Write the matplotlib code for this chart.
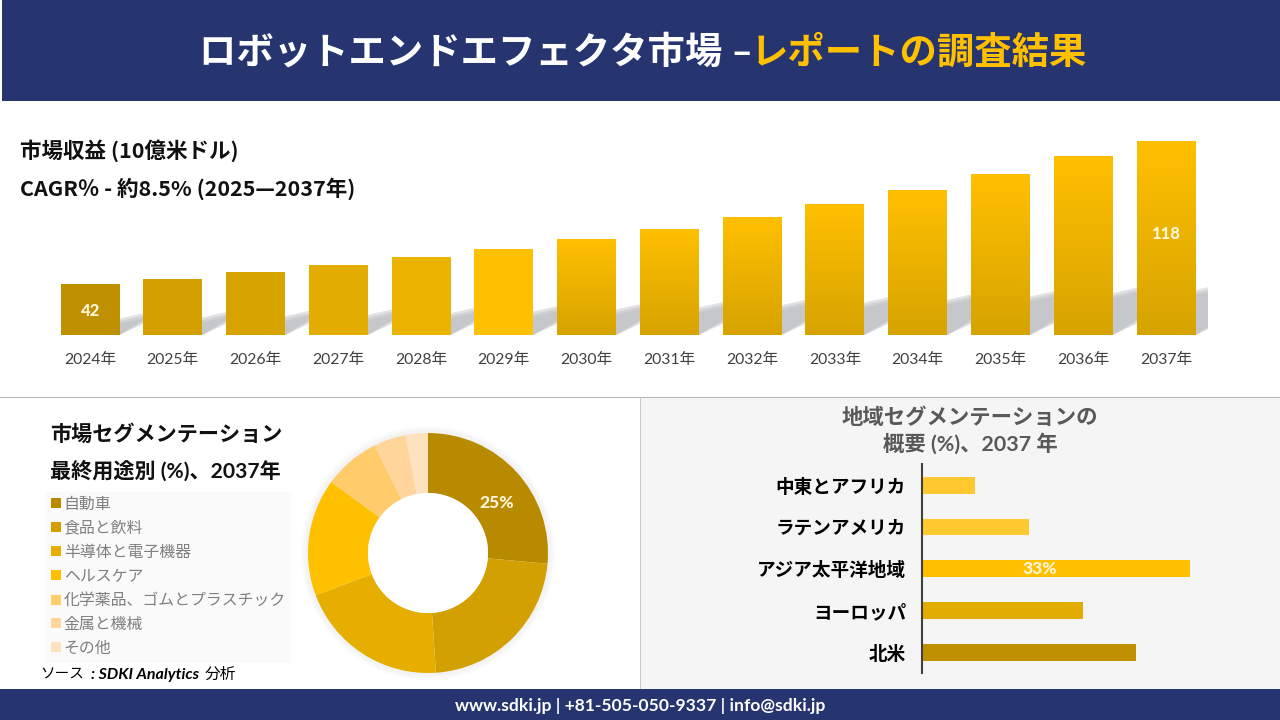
import numpy as np
import matplotlib
matplotlib.use("Agg")
import matplotlib.pyplot as plt
from matplotlib.patches import Rectangle, Polygon, Circle
from matplotlib.colors import to_rgb

plt.rcParams['font.family'] = ['Lato', 'Noto Sans CJK JP', 'DejaVu Sans']

W, H = 1280, 720
NAVY = '#26346F'

# ---- data
years = ['2024年','2025年','2026年','2027年','2028年','2029年','2030年','2031年','2032年','2033年','2034年','2035年','2036年','2037年']
revenue = [42, 45, 48.5, 52, 56.5, 60.7, 66, 71.4, 77.8, 84.7, 92, 100.6, 110, 118]
bar_top = ['#BF9000','#D4A000','#D6A300','#E2AC00','#EBB400','#FFC000','#FFC000','#FFC000','#FFC000','#FFC000','#FFC000','#FFC000','#FFC000','#FFC000']
bar_bottom = ['#BF9000','#D4A000','#D6A300','#E2AC00','#EBB400','#FFC000','#D6A300','#D6A300','#D6A300','#D6A300','#D6A300','#D6A300','#D6A300','#D6A300']

segments = ['自動車','食品と飲料','半導体と電子機器','ヘルスケア','化学薬品、ゴムとプラスチック','金属と機械','その他']
seg_values = [26.4, 22.5, 20.3, 15.8, 7.6, 4.3, 3.0]
seg_colors = ['#B88A00','#D2A000','#E6AE00','#FFC000','#FFCB6B','#FFD59B','#FFE2BF']

regions = ['北米','ヨーロッパ','アジア太平洋地域','ラテンアメリカ','中東とアフリカ']
reg_values = [26.4, 19.8, 33, 13.2, 6.5]
reg_colors = ['#BF9000','#E2AC00','#FFC000','#FFC82E','#FFC82E']


def pxrect(l, t, r, b, **kw):
    return fig.add_axes([l/W, 1-b/H, (r-l)/W, (b-t)/H], **kw)


fig = plt.figure(figsize=(12.8, 7.2), dpi=100, facecolor='white')

# ---- page furniture in pixel coordinates
bg = fig.add_axes([0, 0, 1, 1], zorder=0)
bg.set_xlim(0, W); bg.set_ylim(H, 0); bg.axis('off')
bg.add_patch(Rectangle((2, 0), W-2, 101, color=NAVY, lw=0))
bg.add_patch(Rectangle((641, 398), W-641, 291, color='#F5F5F5', lw=0))
bg.add_patch(Rectangle((0, 397), W, 1.2, color='#B5B5B5', lw=0))
bg.add_patch(Rectangle((640, 397), 1.2, 292, color='#C4C8CF', lw=0))
bg.add_patch(Rectangle((0, 689), W, 31, color=NAVY, lw=0))
bg.add_patch(Rectangle((46, 492), 245, 171, color='#FAFAFA', lw=0))

bg.text(199, 52, 'ロボットエンドエフェクタ市場 –', color='white', fontsize=26.9, weight='bold', va='center', ha='left')
bg.text(751, 52, 'レポートの調査結果', color='#FFC000', fontsize=26.9, weight='bold', va='center', ha='left')
top_fam = ['Noto Sans CJK JP', 'DejaVu Sans']
bg.text(20, 151, '市場収益 (10億米ドル)', color='#111111', fontsize=15.5, weight='bold', family=top_fam, va='center')
bg.text(20, 189, 'CAGR％ - 約8.5% (2025—2037年)', color='#111111', fontsize=15.5, weight='bold', family=top_fam, va='center')
bg.text(50, 435, '市場セグメンテーション', color='#111111', fontsize=15.2, weight='bold', va='center')
bg.text(50, 471, '最終用途別 (%)、2037年', color='#111111', fontsize=15.2, weight='bold', va='center')
bg.text(40, 675, 'ソース', color='black', fontsize=10.5, va='center')
bg.text(91, 675, ': SDKI Analytics', color='black', fontsize=11.5, style='italic', weight='bold', va='center')
bg.text(205, 675, '分析', color='black', fontsize=11.3, va='center')
bg.text(970, 418, '地域セグメンテーションの', color='#595959', fontsize=15.4, weight='bold', va='center', ha='center')
bg.text(970, 444, '概要 (%)、2037 年', color='#595959', fontsize=15.4, weight='bold', va='center', ha='center')
bg.text(640, 706, 'www.sdki.jp | +81-505-050-9337 | info@sdki.jp', color='white', fontsize=12.6, weight='bold', va='center', ha='center')

# ---- revenue bars
PX_X = 82.77
PX_Y = 1.88
BASE = 15
ax = pxrect(49, 130, 1208, 335, zorder=2)
ax.patch.set_alpha(0)
x = np.arange(len(years))
bw = 59 / PX_X
reach = 30
for i, v in zip(x, revenue):
    hpx = (v - BASE) * PX_Y
    x1 = i + bw/2
    x2 = x1 + reach/PX_X
    for off in (-2.5, 0, 2.5):
        low0 = BASE
        low1 = BASE + (0.55*reach - off) / PX_Y
        top0 = BASE + (0.2*hpx + off) / PX_Y
        top1 = BASE + (0.2*hpx + 0.35*reach + off) / PX_Y
        ax.add_patch(Polygon([(x1 - 0.2, low0), (x1, low0), (x2, low1), (x2, top1), (x1 - 0.2, top0)],
                             closed=True, color='#B9BABE', alpha=0.42, lw=0, zorder=1))
bars = ax.bar(x, revenue, width=bw, color=bar_bottom, bottom=0, zorder=2)
for i, (b, v, c0, c1) in enumerate(zip(bars, revenue, bar_top, bar_bottom)):
    if c0 != c1:
        grad = np.linspace(to_rgb(c0), to_rgb(c1), 256)[:, None, :]
        im = ax.imshow(grad, extent=(i-bw/2, i+bw/2, BASE, v), aspect='auto', zorder=3, interpolation='bilinear')
        im.set_clip_path(b)
ax.set_xlim((49-90)/PX_X, (1208-90)/PX_X)
ax.set_ylim(BASE, BASE + 205/PX_Y)
ax.set_xticks(x, years)
ax.tick_params(axis='x', length=0, pad=13, labelsize=11.3, labelcolor='#404040')
ax.set_yticks([])
for s in ax.spines.values():
    s.set_visible(False)
ax.text(0.01, 28, f'{revenue[0]}', color='#FFF6D8', fontsize=12, weight='black', ha='center', va='center', zorder=5)
ax.text(13, 68.5, f'{revenue[-1]}', color='#FFF6D8', fontsize=12, weight='black', ha='center', va='center', zorder=5)

# ---- donut
cx, cy, R = 428, 553, 120
shadow = fig.add_axes([(cx-140)/W, 1-(cy+140)/H, 280/W, 280/H], zorder=1)
shadow.set_xlim(-140, 140); shadow.set_ylim(-140, 140); shadow.axis('off')
for r in (127, 125, 123):
    shadow.add_patch(Circle((0, 0), r, color='#808080', alpha=0.03, lw=0))
dn = pxrect(cx-R, cy-R, cx+R, cy+R, zorder=2)
dn.patch.set_alpha(0)
wedges, _ = dn.pie(seg_values, colors=seg_colors, startangle=90, counterclock=False,
                   radius=1, wedgeprops=dict(width=0.5, lw=0))
dn.add_patch(Circle((0, 0), 0.5, color='white', lw=0, zorder=3))
dn.set_xlim(-1, 1); dn.set_ylim(-1, 1)
dn.text(0.575, 0.42, '25%', color='#FFF6D8', fontsize=12.5, weight='black', ha='center', va='center', zorder=4)

leg = bg.legend(wedges, segments, loc='upper left', bbox_to_anchor=(47, 493), bbox_transform=bg.transData,
                frameon=False, fontsize=11.45, labelcolor='#7F7F7F', handlelength=0.6, handleheight=0.6,
                handletextpad=0.2, labelspacing=0.61, borderpad=0.25, borderaxespad=0)

# ---- regional bars
rx = pxrect(922, 464, 1270, 673, zorder=2)
rx.patch.set_alpha(0)
PX_R = 8.12
ROW = 41.75
yy = np.arange(len(regions))
rx.barh(yy, reg_values, height=16.7/ROW, color=reg_colors)
rx.set_xlim(0, 348/PX_R)
rx.set_ylim((652.3-673)/ROW, (652.3-464)/ROW)
rx.set_yticks(yy, regions)
rx.set_xticks([])
rx.tick_params(axis='y', length=0, pad=11.5, labelsize=13.4, labelcolor='black')
for l in rx.get_yticklabels():
    l.set_fontweight('bold')
for n, s in rx.spines.items():
    s.set_visible(n == 'left')
rx.spines['left'].set_color('#404040')
rx.spines['left'].set_linewidth(1.5)
rx.text(14.5, 2, '33%', color='#FFF6D8', fontsize=12.5, weight='black', ha='center', va='center')

fig.savefig('out.png', dpi=100)
